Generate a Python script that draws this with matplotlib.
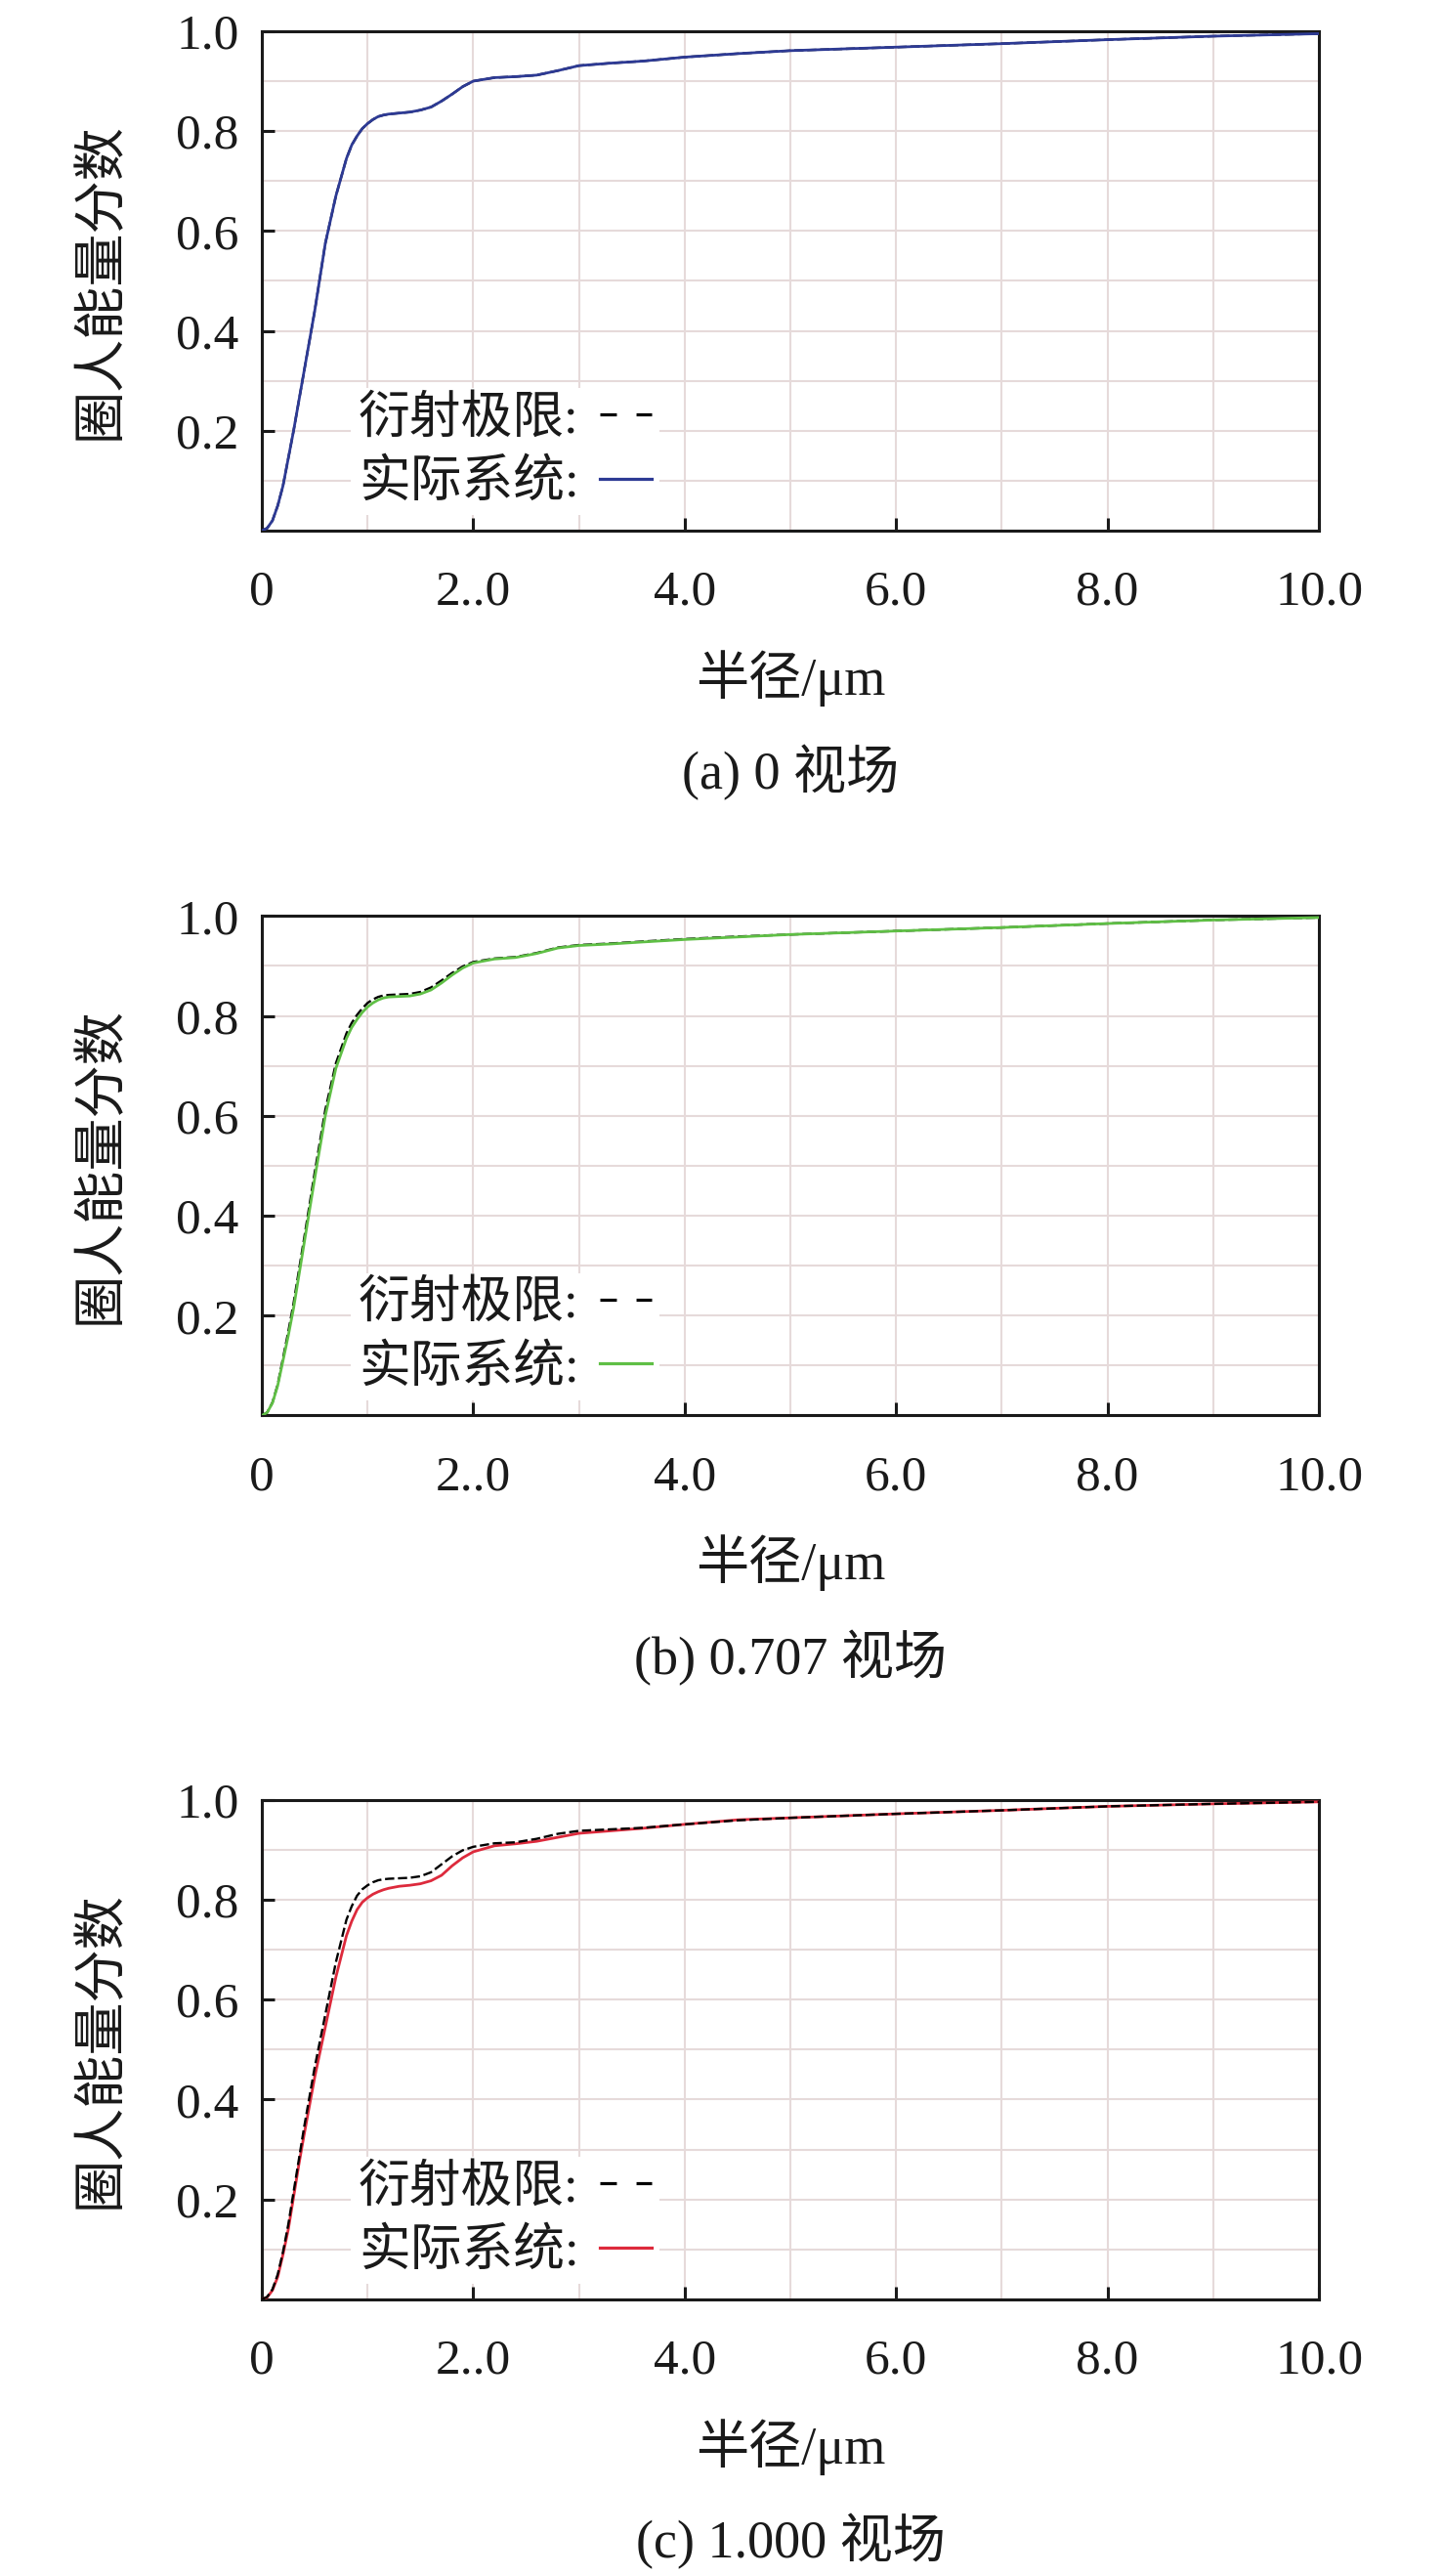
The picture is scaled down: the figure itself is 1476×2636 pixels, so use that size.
import matplotlib
matplotlib.use("Agg")
import matplotlib.pyplot as plt
from matplotlib.lines import Line2D
from matplotlib.ticker import MultipleLocator

plt.rcParams['font.family'] = ['Liberation Serif', 'Noto Sans CJK SC']
plt.rcParams['axes.unicode_minus'] = False

# radius in um, shared by all curves
radius = [0, 0.05, 0.1, 0.15, 0.2, 0.25, 0.3, 0.35, 0.4, 0.5, 0.6, 0.7, 0.8, 0.85, 0.9, 0.95,
          1.0, 1.05, 1.1, 1.15, 1.2, 1.3, 1.4, 1.5, 1.6, 1.7, 1.8, 1.9, 2.0, 2.2, 2.4, 2.6,
          2.8, 3.0, 3.3, 3.6, 4.0, 4.5, 5.0, 6.0, 7.0, 8.0, 9.0, 10.0]

# (a) 0 field - real system and diffraction limit coincide
ee_real_a = [0, 0.005, 0.02, 0.05, 0.09, 0.145, 0.2, 0.26, 0.32, 0.44, 0.575, 0.67, 0.745, 0.772, 0.79, 0.805,
             0.815, 0.823, 0.829, 0.832, 0.834, 0.836, 0.838, 0.842, 0.848, 0.86, 0.874, 0.889, 0.9, 0.907, 0.909, 0.912,
             0.921, 0.931, 0.936, 0.94, 0.948, 0.955, 0.961, 0.968, 0.975, 0.983, 0.99, 0.995]
ee_diff_a = [0, 0.005, 0.02, 0.05, 0.09, 0.145, 0.2, 0.26, 0.32, 0.44, 0.575, 0.67, 0.745, 0.772, 0.79, 0.805,
             0.815, 0.823, 0.829, 0.832, 0.834, 0.836, 0.838, 0.842, 0.848, 0.86, 0.874, 0.889, 0.9, 0.907, 0.909, 0.912,
             0.921, 0.931, 0.936, 0.94, 0.948, 0.955, 0.961, 0.968, 0.975, 0.983, 0.99, 0.995]

# (b) 0.707 field
ee_real_b = [0, 0.006, 0.025, 0.06, 0.11, 0.16, 0.215, 0.28, 0.345, 0.475, 0.60, 0.695, 0.755, 0.777, 0.793, 0.807,
             0.818, 0.826, 0.832, 0.836, 0.838, 0.839, 0.840, 0.844, 0.852, 0.866, 0.882, 0.896, 0.906, 0.914, 0.917, 0.925,
             0.936, 0.941, 0.944, 0.948, 0.953, 0.958, 0.963, 0.970, 0.977, 0.985, 0.992, 0.997]
ee_diff_b = [0, 0.006, 0.026, 0.062, 0.115, 0.168, 0.225, 0.29, 0.355, 0.487, 0.612, 0.705, 0.765, 0.786, 0.802, 0.815,
             0.826, 0.833, 0.838, 0.841, 0.842, 0.843, 0.844, 0.848, 0.857, 0.871, 0.886, 0.899, 0.908, 0.915, 0.918, 0.926,
             0.937, 0.942, 0.945, 0.949, 0.954, 0.959, 0.963, 0.970, 0.977, 0.985, 0.992, 0.997]

# (c) 1.000 field
ee_real_c = [0, 0.004, 0.018, 0.045, 0.09, 0.14, 0.205, 0.27, 0.33, 0.445, 0.545, 0.645, 0.728, 0.757, 0.78, 0.795,
             0.804, 0.811, 0.816, 0.82, 0.823, 0.827, 0.829, 0.832, 0.838, 0.849, 0.868, 0.884, 0.896, 0.908, 0.912, 0.917,
             0.925, 0.933, 0.938, 0.943, 0.951, 0.960, 0.964, 0.972, 0.979, 0.987, 0.992, 0.996]
ee_diff_c = [0, 0.005, 0.02, 0.05, 0.095, 0.15, 0.215, 0.28, 0.345, 0.465, 0.57, 0.675, 0.76, 0.787, 0.808, 0.821,
             0.829, 0.835, 0.839, 0.841, 0.842, 0.843, 0.844, 0.847, 0.855, 0.871, 0.887, 0.899, 0.906, 0.913, 0.915, 0.922,
             0.932, 0.938, 0.941, 0.944, 0.951, 0.959, 0.964, 0.972, 0.979, 0.987, 0.992, 0.996]

x_ticks = [0, 2, 4, 6, 8, 10]
x_tick_labels = ["0", "2..0", "4.0", "6.0", "8.0", "10.0"]
y_ticks = [0.2, 0.4, 0.6, 0.8, 1.0]
y_tick_labels = ["0.2", "0.4", "0.6", "0.8", "1.0"]
captions = ["(a) 0 视场", "(b) 0.707 视场", "(c) 1.000 视场"]
legend_labels = ["衍射极限:", "实际系统:"]
x_label = "半径/μm"
y_label = "圈人能量分数"

colors = ['#2d3a94', '#5fbf45', '#dd2a3c']
GRID = '#e6dada'
INK = '#1a1a1a'
FS = 37

panels = [
    (ee_diff_a, ee_real_a, 1),   # dashed drawn below the colored curve
    (ee_diff_b, ee_real_b, 1),
    (ee_diff_c, ee_real_c, 4),   # dashed on top in (c)
]
bottoms = [0.7940, 0.4505, 0.1074]

fig = plt.figure(figsize=(14.76, 26.36), dpi=100)

for i, (diff, real, dz) in enumerate(panels):
    ax = fig.add_axes([0.1816, bottoms[i], 0.7331, 0.1939])
    ax.set_xlim(0, 10)
    ax.set_ylim(0, 1)

    ax.plot(radius, real, color=colors[i], lw=2.0, zorder=3, solid_joinstyle='round')
    ax.plot(radius, diff, color='black', lw=1.7, dashes=(4, 1.6), zorder=dz)

    ax.set_xticks(x_ticks, x_tick_labels)
    ax.set_yticks(y_ticks, y_tick_labels)
    ax.xaxis.set_minor_locator(MultipleLocator(1))
    ax.yaxis.set_minor_locator(MultipleLocator(0.1))
    ax.grid(True, which='both', color=GRID, lw=1.5)
    ax.set_axisbelow(True)

    ax.tick_params(which='major', direction='in', length=9.5, width=2.2,
                   labelsize=FS, colors=INK, top=False, right=False)
    ax.tick_params(which='minor', length=0)
    ax.tick_params(axis='x', pad=29)
    ax.tick_params(axis='y', pad=17)
    for sp in ax.spines.values():
        sp.set_linewidth(2.2)
        sp.set_color(INK)

    ax.set_xlabel(x_label, fontsize=39, color=INK)
    ax.xaxis.set_label_coords(0.5, -0.295)
    ax.xaxis.label.set_va('center')
    ax.set_ylabel(y_label, fontsize=39, color=INK)
    ax.yaxis.set_label_coords(-0.151, 0.5)
    ax.yaxis.label.set_va('center')

    ax.text(0.5, -0.485, captions[i], transform=ax.transAxes,
            ha='center', va='center', fontsize=39, color=INK)

    handles = [Line2D([], [], color='black', lw=2.3, dashes=(5.3, 6.3)),
               Line2D([], [], color=colors[i], lw=2.3)]
    leg = ax.legend(handles, legend_labels, loc='lower left', bbox_to_anchor=(0.084, 0.031),
                    borderaxespad=0, borderpad=0.15, markerfirst=False, handlelength=1.02,
                    handletextpad=0.4, labelspacing=0.32, fontsize=38, frameon=True,
                    fancybox=False, framealpha=1.0, edgecolor='none', facecolor='white')
    for t in leg.get_texts():
        t.set_color(INK)

fig.savefig('out.png', dpi=100)
